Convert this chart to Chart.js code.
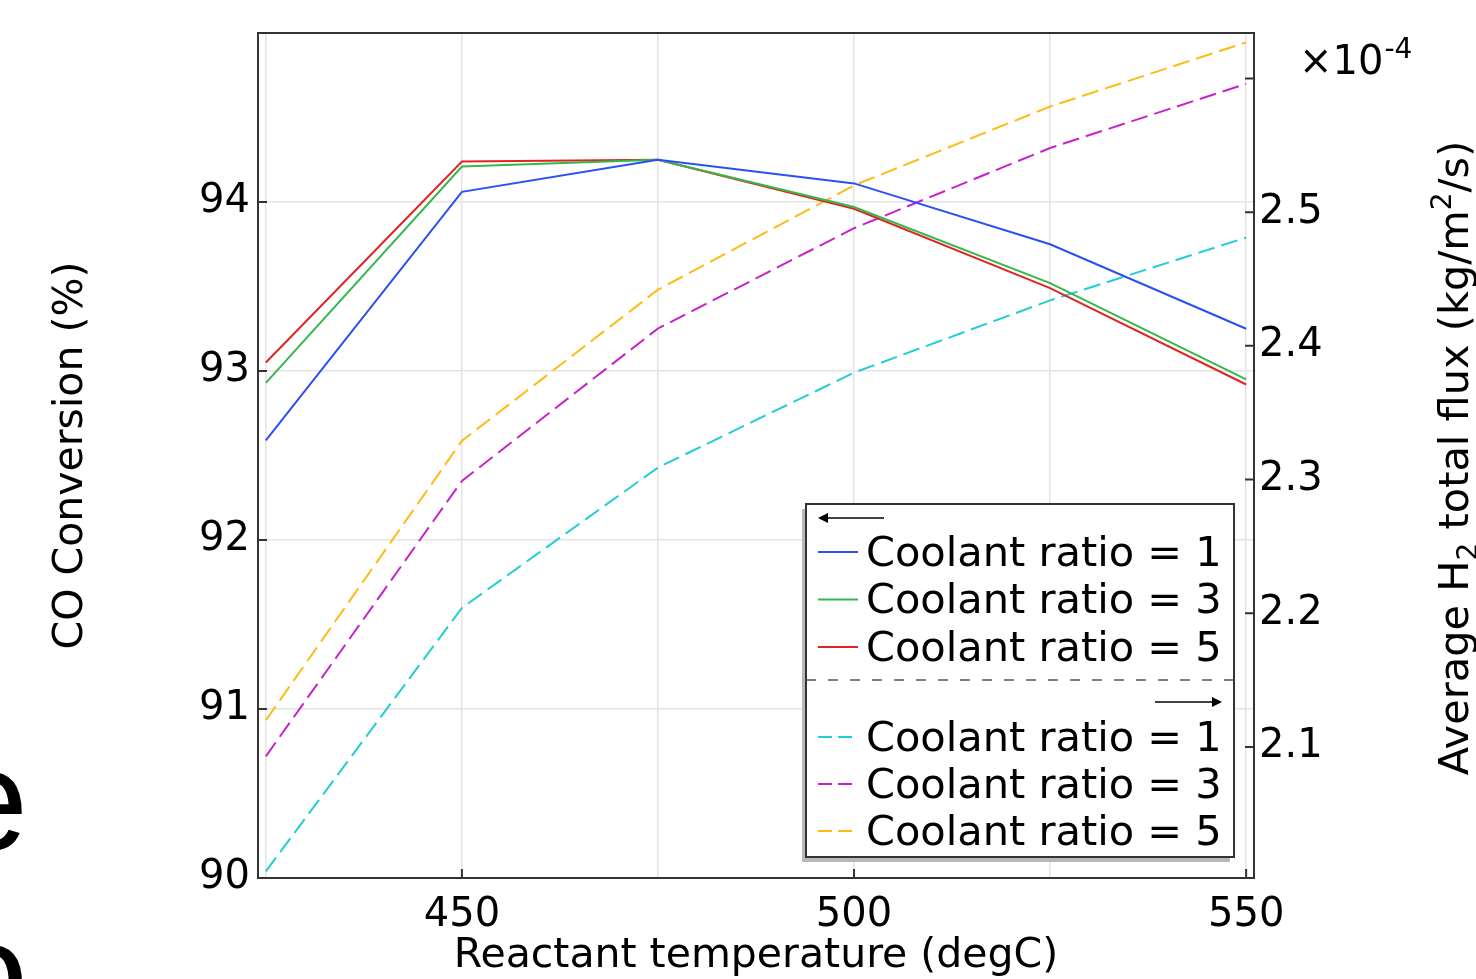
<!DOCTYPE html>
<html>
<head>
<meta charset="utf-8">
<script src="https://cdn.jsdelivr.net/npm/chart.js@4.4.0/dist/chart.umd.min.js"></script>
<style>
  html, body { margin: 0; padding: 0; background: #fff; overflow: hidden; }
  #wrap { position: relative; width: 1476px; height: 979px; }
  #side-text { position: absolute; left: -52px; top: 714px; font-family: "Liberation Sans", Arial, sans-serif; font-size: 144px; line-height: 173px; color: #000; }
  canvas { position: absolute; left: 0; top: 0; }
</style>
</head>
<body>
<div id="wrap">
  <div id="side-text">e<br>o</div>
  <canvas id="chart" width="1476" height="979"></canvas>
</div>
<script>
//// data ////////////////////////////////////////////////////////////
const temps = [425, 450, 475, 500, 525, 550];
// CO conversion (%) - left axis
const convRatio1 = [92.59, 94.06, 94.25, 94.11, 93.75, 93.25];
const convRatio3 = [92.93, 94.21, 94.25, 93.97, 93.52, 92.95];
const convRatio5 = [93.05, 94.24, 94.25, 93.96, 93.49, 92.92];
// average H2 flux (x1e-4 kg/m2/s) - right axis
const fluxRatio1 = [2.007, 2.204, 2.309, 2.380, 2.434, 2.481];
const fluxRatio3 = [2.093, 2.299, 2.413, 2.488, 2.548, 2.596];
const fluxRatio5 = [2.120, 2.329, 2.442, 2.520, 2.579, 2.627];
// ticks
const xTicks = [425, 450, 475, 500, 525, 550];
const yTicks = [90, 91, 92, 93, 94, 95];
const fluxTicks = [2.1, 2.2, 2.3, 2.4, 2.5, 2.6];

const FONT = "'DejaVu Sans', sans-serif";
const pts = arr => temps.map((t, i) => ({ x: t, y: arr[i] }));

function line(label, data, color, axis, dashed) {
  return {
    label: label,
    data: pts(data),
    borderColor: color,
    backgroundColor: color,
    borderWidth: 2,
    borderDash: dashed ? [17, 7] : [],
    pointRadius: 0,
    tension: 0,
    yAxisID: axis,
  };
}

//// legend + frame + right title, drawn by hand //////////////////////
const extras = {
  id: 'extras',
  afterDraw(chart) {
    const { ctx, chartArea: a, scales } = chart;
    ctx.save();

    // frame and inward ticks
    ctx.strokeStyle = '#333';
    ctx.lineWidth = 2;
    ctx.strokeRect(a.left, a.top, a.right - a.left, a.bottom - a.top);
    ctx.beginPath();
    yTicks.forEach(v => { const y = scales.y.getPixelForValue(v); ctx.moveTo(a.left, y); ctx.lineTo(a.left + 9, y); });
    fluxTicks.forEach(v => { const y = scales.y1.getPixelForValue(v); ctx.moveTo(a.right, y); ctx.lineTo(a.right - 9, y); });
    xTicks.filter(v => v % 50 === 0).forEach(v => { const x = scales.x.getPixelForValue(v); ctx.moveTo(x, a.bottom); ctx.lineTo(x, a.bottom - 9); });
    ctx.stroke();

    // exponent label of right axis
    ctx.fillStyle = '#000';
    ctx.textBaseline = 'alphabetic';
    ctx.textAlign = 'left';
    ctx.font = '40px ' + FONT;
    ctx.fillText('\u00d710', 1299, 74);
    let w = ctx.measureText('\u00d710').width;
    ctx.font = '28px ' + FONT;
    ctx.fillText('-4', 1299 + w + 1, 58);

    // right axis title with sub/superscript
    const parts = [
      { t: 'Average H', s: 41.5, dy: 0 },
      { t: '2', s: 28, dy: 9 },
      { t: ' total flux (kg/m', s: 41.5, dy: 0 },
      { t: '2', s: 28, dy: -17 },
      { t: '/s)', s: 41.5, dy: 0 },
    ];
    let total = 0;
    parts.forEach(p => { ctx.font = p.s + 'px ' + FONT; p.w = ctx.measureText(p.t).width; total += p.w; });
    ctx.translate(1468, 458);
    ctx.rotate(-Math.PI / 2);
    let cx = -total / 2;
    parts.forEach(p => { ctx.font = p.s + 'px ' + FONT; ctx.fillText(p.t, cx, p.dy); cx += p.w; });
    ctx.setTransform(1, 0, 0, 1, 0, 0);

    // legend box
    const L = 806, T = 504, R = 1234, B = 857;
    ctx.fillStyle = '#b8b8b8';
    ctx.fillRect(L - 4, T + 5, R - L, B - T);
    ctx.fillStyle = '#fff';
    ctx.fillRect(L, T, R - L, B - T);
    ctx.strokeStyle = '#333';
    ctx.lineWidth = 2;
    ctx.strokeRect(L, T, R - L, B - T);

    const arrow = (x1, x2, y, dir) => {
      ctx.strokeStyle = '#000'; ctx.fillStyle = '#000'; ctx.lineWidth = 1.5;
      ctx.beginPath(); ctx.moveTo(x1, y); ctx.lineTo(x2, y); ctx.stroke();
      const tip = dir < 0 ? x1 - 4 : x2 + 4;
      ctx.beginPath(); ctx.moveTo(tip, y); ctx.lineTo(tip - dir * 10, y - 5); ctx.lineTo(tip - dir * 10, y + 5); ctx.closePath(); ctx.fill();
    };
    arrow(822, 884, 518, -1);
    arrow(1155, 1218, 702, 1);

    ctx.setLineDash([10, 12]);
    ctx.strokeStyle = '#555';
    ctx.lineWidth = 1.5;
    ctx.beginPath(); ctx.moveTo(L, 680); ctx.lineTo(R, 680); ctx.stroke();
    ctx.setLineDash([]);

    const leftSets = chart.data.datasets.filter(d => d.yAxisID === 'y');
    const rightSets = chart.data.datasets.filter(d => d.yAxisID === 'y1');
    const row = (d, y) => {
      ctx.strokeStyle = d.borderColor;
      ctx.lineWidth = 2;
      ctx.setLineDash(d.borderDash.length ? [14, 6] : []);
      ctx.beginPath(); ctx.moveTo(818, y); ctx.lineTo(858, y); ctx.stroke();
      ctx.setLineDash([]);
      ctx.fillStyle = '#000';
      ctx.font = '41.5px ' + FONT;
      ctx.textBaseline = 'middle';
      ctx.fillText(d.label, 866, y + 3);
    };
    leftSets.forEach((d, i) => row(d, 552 + i * 47.5));
    rightSets.forEach((d, i) => row(d, 737 + i * 47));

    ctx.restore();
  }
};

const tickFont = { family: FONT, size: 40 };
const titleFont = { family: FONT, size: 41 };
const gridStyle = { color: '#e4e4e4', lineWidth: 1.5, drawTicks: false };

new Chart(document.getElementById('chart'), {
  type: 'line',
  plugins: [extras],
  data: {
    datasets: [
      line('Coolant ratio = 1', convRatio1, '#2b50f2', 'y', false),
      line('Coolant ratio = 3', convRatio3, '#35b84b', 'y', false),
      line('Coolant ratio = 5', convRatio5, '#e02424', 'y', false),
      line('Coolant ratio = 1', fluxRatio1, '#22cdd4', 'y1', true),
      line('Coolant ratio = 3', fluxRatio3, '#c722c9', 'y1', true),
      line('Coolant ratio = 5', fluxRatio5, '#ffbb14', 'y1', true),
    ],
  },
  options: {
    responsive: false,
    animation: false,
    layout: { padding: { top: 33, left: 0, right: 0, bottom: 0 } },
    plugins: { legend: { display: false }, tooltip: { enabled: false } },
    scales: {
      x: {
        type: 'linear',
        position: 'bottom',
        min: 424,
        max: 551,
        afterBuildTicks: s => { s.ticks = xTicks.map(v => ({ value: v })); },
        afterFit: s => { s.height = 101; },
        ticks: { font: tickFont, color: '#000', padding: 14, maxRotation: 0, autoSkip: false,
                 callback: v => (v % 50 === 0 ? String(v) : '') },
        grid: gridStyle,
        border: { display: false },
        title: { display: true, text: 'Reactant temperature (degC)', font: titleFont, color: '#000', padding: { top: -2, bottom: -2 } },
      },
      y: {
        position: 'left',
        min: 90,
        max: 95,
        afterBuildTicks: s => { s.ticks = yTicks.map(v => ({ value: v })); },
        afterFit: s => { s.width = 258; },
        ticks: { font: tickFont, color: '#000', padding: 8, callback: v => (v === 95 ? '' : String(v)) },
        grid: gridStyle,
        border: { display: false },
        title: { display: true, text: 'CO Conversion (%)', font: titleFont, color: '#000', padding: { top: 47, bottom: 47 } },
      },
      y1: {
        position: 'right',
        min: 2.002,
        max: 2.634,
        afterBuildTicks: s => { s.ticks = fluxTicks.map(v => ({ value: v })); },
        afterFit: s => { s.width = 222; },
        ticks: { font: tickFont, color: '#000', padding: 5, callback: v => (v > 2.55 ? '' : v.toFixed(1)) },
        grid: { display: false, drawTicks: false },
        border: { display: false },
      },
    },
  },
});
</script>
</body>
</html>
